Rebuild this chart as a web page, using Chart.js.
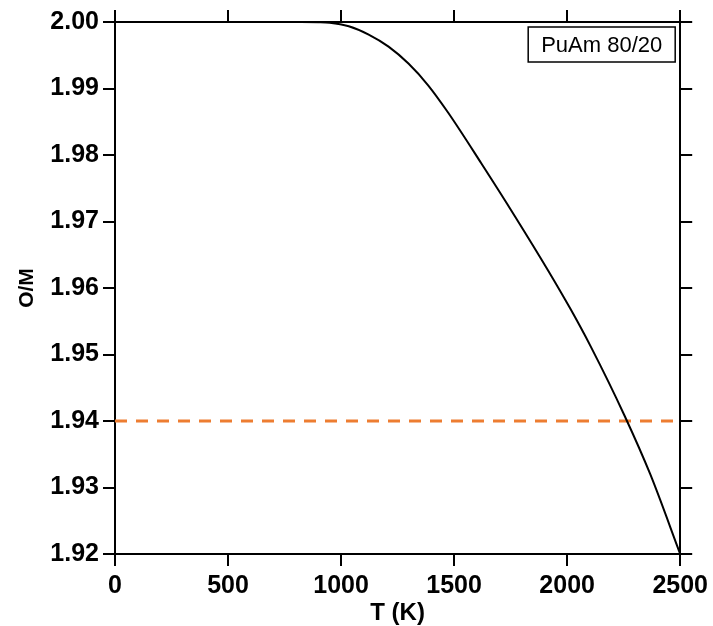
<!DOCTYPE html>
<html>
<head>
<meta charset="utf-8">
<script src="https://cdn.jsdelivr.net/npm/chart.js@4"></script>
<style>
    body{ margin:0; background:#fff; }
    #wrap{ width:713px; height:626px; }
</style>
</head>
<body>
<div id="wrap"><canvas id="graph" width="713" height="626"></canvas></div>
<script>

const temps = [0, 500, 700, 800, 900, 950, 1034, 1122, 1210, 1298, 1386, 1474, 1620, 1768, 1915, 2015, 2104, 2253, 2368, 2500];
const om = [2.0, 2.0, 2.0, 1.99999, 1.99997, 1.99990, 1.99935, 1.99810, 1.99629, 1.99375, 1.99045, 1.98635, 1.97876, 1.97084, 1.96268, 1.95683, 1.95122, 1.94087, 1.93196, 1.9200];

const limitT = [0, 2500];
const limitOM = [1.94, 1.94];

const xTicks = [0, 500, 1000, 1500, 2000, 2500];
const yTicks = [1.92, 1.93, 1.94, 1.95, 1.96, 1.97, 1.98, 1.99, 2.00];

const labelText = "PuAm 80/20";

const font = "'Liberation Sans', Arial, sans-serif";

const labelBox = {
    id : 'labelBox',
    afterDraw(chart){
        const ctx = chart.ctx;
        const area = chart.chartArea;
        const w = 147, h = 35;
        const x = area.right - 5 - w;
        const y = area.top + 5;
        ctx.save();
        ctx.fillStyle = '#fff';
        ctx.fillRect(x, y, w, h);
        ctx.strokeStyle = '#000';
        ctx.lineWidth = 1.5;
        ctx.strokeRect(x, y, w, h);
        ctx.fillStyle = '#000';
        ctx.font = "22px " + font;
        ctx.textAlign = 'center';
        ctx.textBaseline = 'middle';
        ctx.fillText(labelText, x + w / 2, y + h / 2 + 1);
        ctx.restore();
    }
}

function tickAxis(position, size, showLabels){
    return {
        type : 'linear',
        position : position,
        border : { display : true, color : '#000', width : 2 },
        grid : {
            drawOnChartArea : false,
            drawTicks : true,
            tickLength : 12,
            color : '#000',
            lineWidth : 2
        },
        afterFit(scale){
            if(position == 'left' || position == 'right') scale.width = size;
            else scale.height = size;
        },
        ticks : { display : showLabels }
    }
}

const xScale = Object.assign(tickAxis('bottom', 72, true), {
    min : 0, max : 2500,
    afterBuildTicks(scale){ scale.ticks = xTicks.map(v => ({ value : v })) },
    ticks : { display : true, color : '#000', padding : 5, maxRotation : 0, callback : (v) => String(v), font : { family : font, size : 25, weight : 'bold' } },
    title : { display : true, text : 'T (K)', color : '#000', padding : { top : 0, bottom : -2 }, font : { family : font, size : 24, weight : 'bold' } }
});

const x2Scale = Object.assign(tickAxis('top', 22, false), {
    min : 0, max : 2500,
    afterBuildTicks(scale){ scale.ticks = xTicks.map(v => ({ value : v })) }
});

const yScale = Object.assign(tickAxis('left', 115, true), {
    min : 1.92, max : 2.00,
    afterBuildTicks(scale){ scale.ticks = yTicks.map(v => ({ value : v })) },
    ticks : { display : true, color : '#000', padding : 4, callback : (v) => v.toFixed(2), font : { family : font, size : 25, weight : 'bold' } },
    title : { display : true, text : 'O/M', color : '#000', padding : { top : 15, bottom : 0 }, font : { family : font, size : 21, weight : 'bold' } }
});

const y2Scale = Object.assign(tickAxis('right', 30, false), {
    min : 1.92, max : 2.00,
    afterBuildTicks(scale){ scale.ticks = yTicks.map(v => ({ value : v })) }
});

let chart = new Chart(document.querySelector("#graph").getContext("2d"), {
    type : 'line',
    data : {
        datasets : [
            {
                label : 'O/M',
                data : temps.map((t, i) => ({ x : t, y : om[i] })),
                borderColor : '#000',
                borderWidth : 2,
                pointRadius : 0,
                cubicInterpolationMode : 'monotone',
                xAxisID : 'x', yAxisID : 'y'
            },
            {
                label : 'limit',
                data : limitT.map((t, i) => ({ x : t, y : limitOM[i] })),
                borderColor : '#ED7D31',
                borderWidth : 3,
                borderDash : [12, 9],
                pointRadius : 0,
                xAxisID : 'x', yAxisID : 'y'
            }
        ]
    },
    options : {
        responsive : false,
        animation : false,
        layout : { padding : 0 },
        plugins : {
            legend : { display : false },
            tooltip : { enabled : false }
        },
        scales : {
            x : xScale,
            x2 : x2Scale,
            y : yScale,
            y2 : y2Scale
        }
    },
    plugins : [labelBox]
})

</script>
</body>
</html>
